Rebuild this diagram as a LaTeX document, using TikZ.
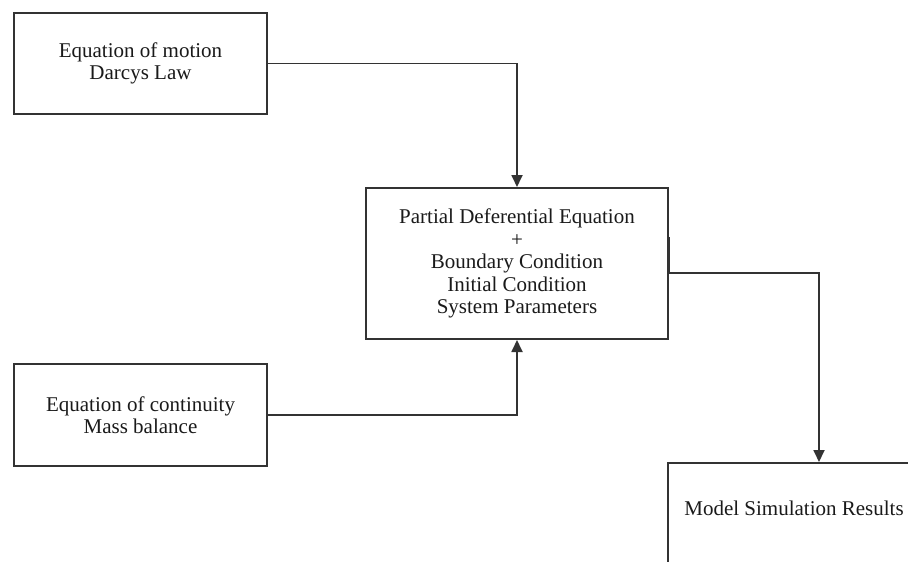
\documentclass[tikz,border=0pt]{standalone}
\usepackage{fontspec}
\setmainfont{Liberation Serif}
\usetikzlibrary{arrows.meta,calc}
\definecolor{linec}{HTML}{333333}
\definecolor{textc}{HTML}{1A1A1A}
\begin{document}
\begin{tikzpicture}[x=1pt,y=-1pt,
  box/.style={draw=linec, line width=2pt, fill=white, inner sep=0pt, align=center,
    font=\fontsize{21}{22.5}\selectfont, text=textc},
  lbl/.style={inner sep=0pt, font=\fontsize{21}{22.5}\selectfont, text=textc},
  conn/.style={draw=linec, line width=1.8pt, -{Triangle[width=11pt,length=12pt]}},
  plain/.style={draw=linec, line width=2pt}
]
\useasboundingbox (0,0) rectangle (908,562);
\fill[white] (0,0) rectangle (908,562);

\node[box, minimum width=253pt, minimum height=101pt] (motion) at (140.5,63.5)
  {Equation of motion\\Darcys Law};
\node[box, minimum width=302pt, minimum height=151pt] (pde) at (517,263.5)
  {Partial Deferential Equation\\+\\Boundary Condition\\Initial Condition\\System Parameters};
\node[box, minimum width=253pt, minimum height=102pt] (cont) at (140.5,415)
  {Equation of continuity\\Mass balance};

\begin{scope}
  \clip (0,0) rectangle (908,562);
  \node[box, minimum width=260pt, minimum height=120pt] (res) at (798,523) {};
\end{scope}
\node[lbl, anchor=base] (restext) at (794,515) {Model Simulation Results};

\draw[conn] (motion.east) -| (pde.north);
\draw[conn] (cont.east) -| (pde.south);

\coordinate (start) at ($(pde.north east)!0.33!(pde.south east)$);
\coordinate (turnA) at (pde.east |- 0,273);
\coordinate (turnB) at (819,273);
\draw[plain] (start) -- (turnA);
\draw[conn] (turnA) -- (turnB) -- (turnB |- res.north);
\end{tikzpicture}
\end{document}
